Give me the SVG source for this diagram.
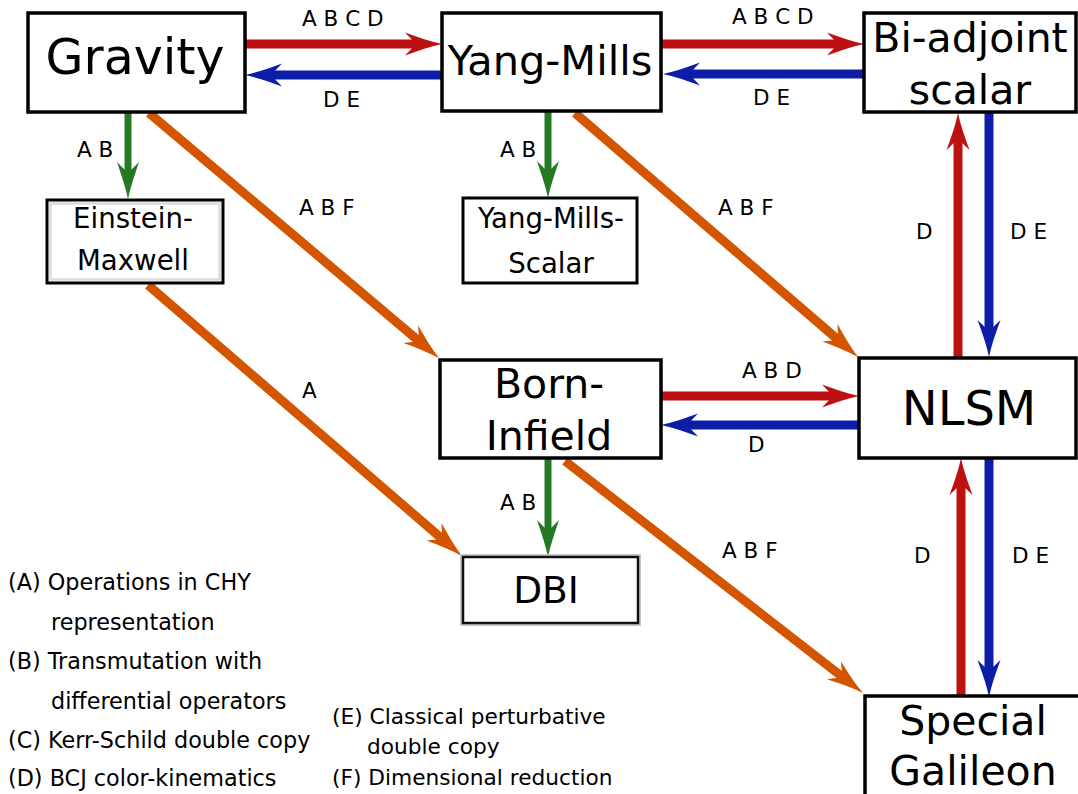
<svg xmlns="http://www.w3.org/2000/svg" width="1078" height="794" viewBox="0 0 1078 794">
<style>
.box{fill:#fff;stroke:#000;stroke-width:3.5}
.big{font-family:"DejaVu Sans",sans-serif;font-size:41px;fill:#000;text-anchor:middle}
.small{font-family:"DejaVu Sans",sans-serif;font-size:27.6px;fill:#000;text-anchor:middle}
.lab{font-family:"DejaVu Sans",sans-serif;font-size:21.5px;fill:#000}
.leg{font-family:"DejaVu Sans",sans-serif;font-size:22.3px;fill:#000}
.leg2{font-family:"DejaVu Sans",sans-serif;font-size:21.7px;fill:#000}
.r{stroke:#bd1111;stroke-width:9;fill:none}
.b{stroke:#0c1ea8;stroke-width:9;fill:none}
.g{stroke:#237a23;stroke-width:7;fill:none}
.o{stroke:#d45500;stroke-width:9;fill:none}
</style>
<defs>
<marker id="mr" markerUnits="userSpaceOnUse" orient="auto" refX="0" refY="0" markerWidth="80" markerHeight="80" overflow="visible"><path d="M26,0 C14,-2.5 1,-7 -11,-11.5 L0,0 L-11,11.5 C1,7 14,2.5 26,0 Z" fill="#bd1111"/></marker>
<marker id="mb" markerUnits="userSpaceOnUse" orient="auto" refX="0" refY="0" markerWidth="80" markerHeight="80" overflow="visible"><path d="M26,0 C14,-2.5 1,-7 -11,-11.5 L0,0 L-11,11.5 C1,7 14,2.5 26,0 Z" fill="#0c1ea8"/></marker>
<marker id="mg" markerUnits="userSpaceOnUse" orient="auto" refX="0" refY="0" markerWidth="80" markerHeight="80" overflow="visible"><path d="M26,0 C14,-2.5 1,-7 -11,-11 L0,0 L-11,11 C1,7 14,2.5 26,0 Z" fill="#237a23"/></marker>
<marker id="mo" markerUnits="userSpaceOnUse" orient="auto" refX="0" refY="0" markerWidth="80" markerHeight="80" overflow="visible"><path d="M26,0 C14,-2.5 1,-7 -11,-11.5 L0,0 L-11,11.5 C1,7 14,2.5 26,0 Z" fill="#d45500"/></marker>
</defs>

<g id="connectors">
<line class="r" x1="245" y1="44" x2="416" y2="44" marker-end="url(#mr)"/>
<line class="b" x1="442" y1="75" x2="271" y2="75" marker-end="url(#mb)"/>
<line class="r" x1="661" y1="44" x2="838" y2="44" marker-end="url(#mr)"/>
<line class="b" x1="864" y1="74" x2="689" y2="74" marker-end="url(#mb)"/>
<line class="g" x1="128" y1="112" x2="128" y2="173" marker-end="url(#mg)"/>
<line class="g" x1="548" y1="111" x2="548" y2="172" marker-end="url(#mg)"/>
<line class="g" x1="548" y1="458" x2="548" y2="531" marker-end="url(#mg)"/>
<line class="o" x1="149" y1="113" x2="419.1" y2="341.2" marker-end="url(#mo)"/>
<line class="o" x1="148" y1="285" x2="442.3" y2="539" marker-end="url(#mo)"/>
<line class="o" x1="575" y1="113" x2="838.3" y2="340" marker-end="url(#mo)"/>
<line class="o" x1="565" y1="461" x2="842.5" y2="677" marker-end="url(#mo)"/>
<line class="r" x1="958" y1="357" x2="958" y2="139" marker-end="url(#mr)"/>
<line class="b" x1="989" y1="113" x2="989" y2="331" marker-end="url(#mb)"/>
<line class="r" x1="661" y1="396" x2="833" y2="396" marker-end="url(#mr)"/>
<line class="b" x1="859" y1="425" x2="687" y2="425" marker-end="url(#mb)"/>
<line class="r" x1="961" y1="696" x2="961" y2="484" marker-end="url(#mr)"/>
<line class="b" x1="989" y1="458" x2="989" y2="671" marker-end="url(#mb)"/>
<text class="lab" x="302" y="26">A B C D</text>
<text class="lab" x="323" y="107">D E</text>
<text class="lab" x="732" y="24">A B C D</text>
<text class="lab" x="753" y="105">D E</text>
<text class="lab" x="77" y="157">A B</text>
<text class="lab" x="500" y="157">A B</text>
<text class="lab" x="500" y="510">A B</text>
<text class="lab" x="299" y="215">A B F</text>
<text class="lab" x="718" y="215">A B F</text>
<text class="lab" x="302" y="398">A</text>
<text class="lab" x="722" y="558">A B F</text>
<text class="lab" x="742" y="378">A B D</text>
<text class="lab" x="748" y="452">D</text>
<text class="lab" x="916" y="239">D</text>
<text class="lab" x="1010" y="239">D E</text>
<text class="lab" x="914" y="563">D</text>
<text class="lab" x="1012" y="563">D E</text>
</g>

<g id="gravity">
<rect class="box" x="28" y="13" width="217" height="99"/>
<text class="big" x="135" y="74" style="font-size:49px">Gravity</text>
</g>
<g id="yang-mills">
<rect class="box" x="442" y="13" width="219" height="98"/>
<text class="big" x="550" y="75" style="font-size:41.5px">Yang-Mills</text>
</g>
<g id="bi-adjoint">
<rect class="box" x="864" y="13" width="212" height="99"/>
<text class="big" x="970" y="52">Bi-adjoint</text>
<text class="big" x="970" y="104">scalar</text>
</g>
<g id="einstein-maxwell">
<rect x="47" y="200" width="176" height="83" fill="#fff" stroke="#000" stroke-width="3"/>
<rect x="50.5" y="203.5" width="169" height="76" fill="none" stroke="#dcdcdc" stroke-width="2.5"/>
<text class="small" x="133" y="228">Einstein-</text>
<text class="small" x="133" y="270">Maxwell</text>
</g>
<g id="yang-mills-scalar">
<rect class="box" x="463" y="198" width="174" height="85" style="stroke-width:3"/>
<text class="small" x="551" y="228">Yang-Mills-</text>
<text class="small" x="551" y="273">Scalar</text>
</g>
<g id="born-infield">
<rect class="box" x="440" y="360" width="221" height="98"/>
<text class="big" x="549" y="398">Born-</text>
<text class="big" x="549" y="450">Infield</text>
</g>
<g id="nlsm">
<rect class="box" x="859" y="358" width="217" height="100"/>
<text class="big" x="969" y="425" style="font-size:48px">NLSM</text>
</g>
<g id="dbi">
<rect x="463" y="557" width="175" height="66" fill="none" stroke="#c8c8c8" stroke-width="6"/>
<rect x="463" y="557" width="175" height="66" fill="#fff" stroke="#111" stroke-width="2.5"/>
<text class="big" x="546" y="603" style="font-size:37.5px">DBI</text>
</g>
<g id="special-galileon">
<rect class="box" x="865" y="696" width="230" height="130"/>
<text class="big" x="973" y="735">Special</text>
<text class="big" x="973" y="785">Galileon</text>
</g>

<g id="legend">
<text class="leg" x="8" y="590">(A) Operations in CHY</text>
<text class="leg" x="51" y="630">representation</text>
<text class="leg" x="8" y="669">(B) Transmutation with</text>
<text class="leg" x="51" y="709">differential operators</text>
<text class="leg" x="8" y="748">(C) Kerr-Schild double copy</text>
<text class="leg" x="8" y="786">(D) BCJ color-kinematics</text>
<text class="leg2" x="332" y="724">(E) Classical perturbative</text>
<text class="leg2" x="367" y="754">double copy</text>
<text class="leg2" x="332" y="785">(F) Dimensional reduction</text>
</g>
</svg>
